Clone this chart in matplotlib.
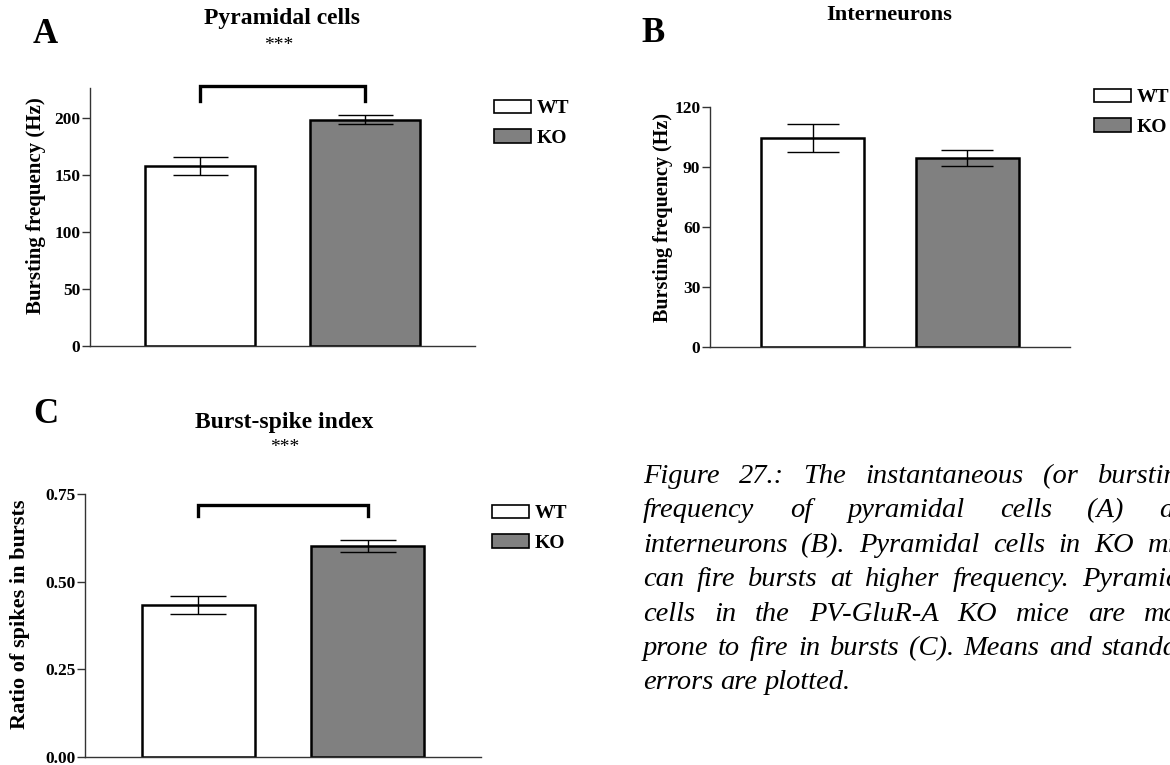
import matplotlib
matplotlib.use("Agg")
import matplotlib.pyplot as plt
from matplotlib.patches import Patch
from matplotlib.ticker import FormatStrFormatter

plt.rcParams["font.family"] = ["Liberation Serif", "DejaVu Serif"]
plt.rcParams["font.weight"] = "bold"

# ---- data -------------------------------------------------------------
groups = ["WT", "KO"]
bar_colors = ["#ffffff", "#808080"]
x_pos = [0.0, 1.5]

pyr_mean = [158.0, 198.5]
pyr_sem = [7.7, 3.9]
pyr_ticks = [0, 50, 100, 150, 200]

int_mean = [104.4, 94.3]
int_sem = [7.1, 3.9]
int_ticks = [0, 30, 60, 90, 120]

bsi_mean = [0.434, 0.601]
bsi_sem = [0.025, 0.017]
bsi_ticks = [0.00, 0.25, 0.50, 0.75]

caption_lines = [
    "Figure 27.: The instantaneous (or bursting)",
    "frequency of pyramidal cells (A) and",
    "interneurons (B). Pyramidal cells in KO mice",
    "can fire bursts at higher frequency. Pyramidal",
    "cells in the PV-GluR-A KO mice are more",
    "prone to fire in bursts (C). Means and standard",
    "errors are plotted.",
]

# ---- figure -----------------------------------------------------------
W, H, DPI = 1170, 765, 100
fig = plt.figure(figsize=(W / DPI, H / DPI), dpi=DPI)


def px_axes(left, top, right, bottom):
    return fig.add_axes([left / W, 1 - bottom / H, (right - left) / W, (bottom - top) / H])


def fx(px):
    return px / W


def fy(py):
    return 1 - py / H


SPINE = "#333333"


def bar_panel(ax, means, sems, ticks, ylim, fmt=None):
    for i in range(len(groups)):
        ax.bar(x_pos[i], means[i], width=1.0, color=bar_colors[i],
               edgecolor="black", linewidth=1.8, label=groups[i], zorder=2)
    ax.set_xlim(-1.0, 2.5)
    ax.set_ylim(*ylim)
    # caps span half a bar width
    ax_w_px = ax.get_position().width * W
    unit_px = ax_w_px / 3.5
    cap_pt = 0.25 * unit_px * 72 / DPI
    ax.errorbar(x_pos, means, yerr=sems, fmt="none", ecolor="black",
                elinewidth=1.0, capsize=cap_pt, capthick=1.0, zorder=3)
    ax.set_yticks(ticks)
    if fmt:
        ax.yaxis.set_major_formatter(FormatStrFormatter(fmt))
    ax.set_xticks([])
    for s in ("top", "right"):
        ax.spines[s].set_visible(False)
    for s in ("left", "bottom"):
        ax.spines[s].set_color(SPINE)
        ax.spines[s].set_linewidth(1.0)
    ax.tick_params(axis="y", direction="out", length=6, width=1.0,
                   color=SPINE, labelsize=12.5, pad=1)
    for lab in ax.get_yticklabels():
        lab.set_fontweight("bold")


def legend(ax, x_px, y_px):
    handles = [Patch(facecolor=c, edgecolor="black", linewidth=1.2) for c in bar_colors]
    ax.legend(handles, groups, loc="upper left",
              bbox_to_anchor=(fx(x_px), fy(y_px)), bbox_transform=fig.transFigure,
              frameon=False, borderpad=0, borderaxespad=0,
              handlelength=1.9, handleheight=0.67, handletextpad=0.3,
              labelspacing=0.62, prop={"weight": "bold", "size": 14})


def bracket(ax, y_top, y_leg):
    ax.plot([x_pos[0], x_pos[0], x_pos[1], x_pos[1]], [y_leg, y_top, y_top, y_leg],
            color="black", linewidth=2.4, clip_on=False, zorder=4,
            solid_joinstyle="miter")


# A: pyramidal cells
axA = px_axes(90, 88.5, 475, 346)
bar_panel(axA, pyr_mean, pyr_sem, pyr_ticks, (0, 226))
bracket(axA, 228, 215)
legend(axA, 494, 100)
fig.text(fx(36), fy(206), "Bursting frequency (Hz)", rotation=90,
         ha="center", va="center", fontsize=15, fontweight="bold")
fig.text(fx(282), fy(24), "Pyramidal cells", ha="center", va="baseline",
         fontsize=17, fontweight="bold")
fig.text(fx(279), fy(50), "***", ha="center", va="baseline",
         fontsize=14, fontweight="normal")
fig.text(fx(33), fy(43), "A", ha="left", va="baseline", fontsize=25, fontweight="bold")

# B: interneurons
axB = px_axes(710, 106.7, 1070, 347)
bar_panel(axB, int_mean, int_sem, int_ticks, (0, 120))
legend(axB, 1094, 89)
fig.text(fx(663), fy(217), "Bursting frequency (Hz)", rotation=90,
         ha="center", va="center", fontsize=14.5, fontweight="bold")
fig.text(fx(889), fy(20), "Interneurons", ha="center", va="baseline",
         fontsize=16.2, fontweight="bold")
fig.text(fx(641), fy(42), "B", ha="left", va="baseline", fontsize=25, fontweight="bold")

# C: burst-spike index
axC = px_axes(85, 494, 481, 757)
bar_panel(axC, bsi_mean, bsi_sem, bsi_ticks, (0, 0.75), fmt="%.2f")
bracket(axC, 0.718, 0.688)
legend(axC, 492, 505)
fig.text(fx(20), fy(614), "Ratio of spikes in bursts", rotation=90,
         ha="center", va="center", fontsize=16, fontweight="bold")
fig.text(fx(284), fy(428), "Burst-spike index", ha="center", va="baseline",
         fontsize=17, fontweight="bold")
fig.text(fx(285), fy(452), "***", ha="center", va="baseline",
         fontsize=14, fontweight="normal")
fig.text(fx(33), fy(423), "C", ha="left", va="baseline", fontsize=25, fontweight="bold")

# ---- justified caption -------------------------------------------------
CAP_L, CAP_R = 643, 1202
CAP_Y0, CAP_DY = 483, 34.4
CAP_SIZE = 20.5
renderer = fig.canvas.get_renderer()
for i, line in enumerate(caption_lines):
    y = fy(CAP_Y0 + i * CAP_DY)
    words = line.split(" ")
    texts = [fig.text(0, y, w, ha="left", va="baseline", fontsize=CAP_SIZE,
                      fontstyle="italic", fontweight="normal") for w in words]
    widths = [t.get_window_extent(renderer).width for t in texts]
    last = i == len(caption_lines) - 1
    if last or len(words) == 1:
        space = CAP_SIZE * 0.25 * DPI / 72
    else:
        space = (CAP_R - CAP_L - sum(widths)) / (len(words) - 1)
    x = CAP_L
    for t, w in zip(texts, widths):
        t.set_x(fx(x))
        x += w + space

fig.savefig("out.png", dpi=DPI)
